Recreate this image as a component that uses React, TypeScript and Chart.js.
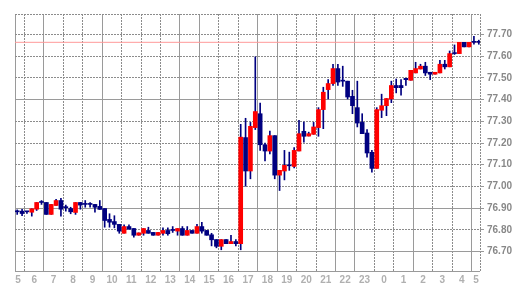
import React, { useEffect, useRef } from 'react';
import { Chart, registerables } from 'chart.js';

Chart.register(...registerables);

// ---- data (15-minute candles, 05:00 -> 05:00 next day) ----
const hourLabels = ['5', '6', '7', '8', '9', '10', '11', '12', '13', '14', '15', '16', '17', '18', '19', '20', '21', '22', '23', '0', '1', '2', '3', '4', '5'];

const openP = [
  76.883, 76.886, 76.883, 76.881, 76.895, 76.926, 76.926, 76.871, 76.912, 76.935,
  76.902, 76.898, 76.880, 76.926, 76.917, 76.917, 76.917, 76.908, 76.898, 76.848,
  76.838, 76.825, 76.784, 76.815, 76.806, 76.775, 76.784, 76.797, 76.788, 76.775,
  76.784, 76.797, 76.797, 76.794, 76.806, 76.775, 76.797, 76.784, 76.815, 76.797,
  76.777, 76.755, 76.724, 76.755, 76.736, 76.746, 76.736, 77.225, 77.071, 77.271,
  77.335, 77.192, 77.163, 77.234, 77.052, 77.071, 77.095, 77.092, 77.163, 77.254,
  77.232, 77.240, 77.271, 77.354, 77.446, 77.474, 77.543, 77.485, 77.485, 77.415,
  77.363, 77.295, 77.246, 77.157, 77.083, 77.351, 77.372, 77.403, 77.465, 77.465,
  77.498, 77.489, 77.523, 77.541, 77.554, 77.526, 77.517, 77.523, 77.563, 77.551,
  77.612, 77.612, 77.664, 77.643, 77.664, 77.664,
];
const highP = [
  76.892, 76.894, 76.885, 76.897, 76.926, 76.935, 76.926, 76.917, 76.941, 76.945,
  76.914, 76.904, 76.926, 76.926, 76.935, 76.926, 76.917, 76.935, 76.898, 76.874,
  76.865, 76.825, 76.823, 76.823, 76.806, 76.786, 76.806, 76.812, 76.788, 76.788,
  76.809, 76.809, 76.815, 76.806, 76.815, 76.815, 76.797, 76.825, 76.834, 76.797,
  76.784, 76.755, 76.755, 76.755, 76.774, 76.755, 77.286, 77.314, 77.295, 77.597,
  77.384, 77.200, 77.255, 77.234, 77.074, 77.166, 77.158, 77.179, 77.305, 77.297,
  77.250, 77.295, 77.363, 77.457, 77.492, 77.563, 77.563, 77.554, 77.485, 77.443,
  77.485, 77.335, 77.262, 77.166, 77.363, 77.425, 77.405, 77.485, 77.495, 77.492,
  77.498, 77.535, 77.572, 77.563, 77.572, 77.526, 77.526, 77.581, 77.581, 77.624,
  77.652, 77.664, 77.664, 77.664, 77.692, 77.674,
];
const lowP = [
  76.871, 76.865, 76.875, 76.863, 76.889, 76.917, 76.871, 76.871, 76.912, 76.863,
  76.886, 76.874, 76.871, 76.895, 76.904, 76.904, 76.881, 76.894, 76.812, 76.812,
  76.809, 76.784, 76.784, 76.803, 76.766, 76.775, 76.775, 76.784, 76.775, 76.775,
  76.775, 76.775, 76.788, 76.775, 76.775, 76.775, 76.784, 76.784, 76.784, 76.775,
  76.726, 76.717, 76.708, 76.736, 76.736, 76.726, 76.708, 77.001, 77.035, 77.262,
  77.166, 77.117, 77.150, 77.035, 76.981, 77.030, 77.074, 77.085, 77.163, 77.204,
  77.232, 77.240, 77.231, 77.266, 77.403, 77.465, 77.465, 77.461, 77.403, 77.335,
  77.274, 77.243, 77.135, 77.066, 77.083, 77.317, 77.326, 77.386, 77.431, 77.420,
  77.465, 77.489, 77.523, 77.541, 77.511, 77.492, 77.517, 77.523, 77.541, 77.551,
  77.608, 77.612, 77.643, 77.643, 77.655, 77.655,
];
const closeP = [
  76.883, 76.875, 76.883, 76.897, 76.926, 76.926, 76.871, 76.917, 76.935, 76.895,
  76.902, 76.883, 76.926, 76.914, 76.917, 76.917, 76.904, 76.894, 76.843, 76.835,
  76.825, 76.794, 76.815, 76.803, 76.775, 76.786, 76.806, 76.784, 76.775, 76.788,
  76.797, 76.782, 76.797, 76.806, 76.775, 76.797, 76.784, 76.815, 76.794, 76.775,
  76.754, 76.724, 76.755, 76.736, 76.746, 76.736, 77.227, 77.071, 77.277, 77.345,
  77.192, 77.163, 77.234, 77.052, 77.074, 77.097, 77.095, 77.166, 77.243, 77.231,
  77.243, 77.274, 77.354, 77.434, 77.474, 77.543, 77.481, 77.485, 77.412, 77.372,
  77.292, 77.243, 77.154, 77.083, 77.354, 77.372, 77.405, 77.465, 77.455, 77.455,
  77.492, 77.535, 77.543, 77.554, 77.523, 77.517, 77.526, 77.563, 77.551, 77.612,
  77.612, 77.664, 77.643, 77.664, 77.664, 77.664,
];

const yTickValues = [76.7, 76.8, 76.9, 77.0, 77.1, 77.2, 77.3, 77.4, 77.5, 77.6, 77.7];

// ---- styling / layout ----
const UP = '#ff0000';
const DOWN = '#000080';
const X_MIN = -0.455;
const X_MAX = 95.25;
const Y_MIN = 76.6102;
const Y_MAX = 77.7945;
const FONT = 'Arial, "Liberation Sans", sans-serif';
const DOT = '#8c8c8c';
const SOLID = '#9a9a9a';

const labelPos = hourLabels.map((_, k) => Math.min(Math.max(4 * k - 0.5, X_MIN + 0.62), X_MAX - 0.82));
const vGridDotted = [...hourLabels.slice(1).map((_, k) => 4 * k + 1.5), X_MAX];
const vGridSolid = [X_MIN, ...[1, 4, 8, 9, 12, 13, 16, 17, 20, 23].map((k) => 4 * k + 1.5)];
const hGridSolid = [Y_MIN, 76.7, 76.9, 77.4];
const hGridDotted = [Y_MAX];

const setTicks = (vals: number[]) => (s: any) => {
  s.ticks = vals.map((v) => ({ value: v }));
};

export default function App() {
  const ref = useRef<HTMLCanvasElement>(null);

  useEffect(() => {
    const idx = openP.map((_, i) => i);
    const bodyColors = idx.map((i) => (closeP[i] > openP[i] ? UP : DOWN));
    const last = closeP[closeP.length - 1];

    const gridAxisX = (vals: number[], color: string, dash: number[]) => ({
      type: 'linear',
      position: 'top',
      min: X_MIN,
      max: X_MAX,
      offset: false,
      afterBuildTicks: setTicks(vals),
      afterFit: (s: any) => {
        s.height = 0;
      },
      ticks: { display: false },
      grid: { color, lineWidth: 1, drawTicks: false, offset: false },
      border: { display: false, dash },
    });
    const gridAxisY = (vals: number[], color: string, dash: number[]) => ({
      type: 'linear',
      position: 'left',
      min: Y_MIN,
      max: Y_MAX,
      afterBuildTicks: setTicks(vals),
      afterFit: (s: any) => {
        s.width = 0;
      },
      ticks: { display: false },
      grid: { color, lineWidth: 1, drawTicks: false },
      border: { display: false, dash },
    });

    const chart = new Chart(ref.current as HTMLCanvasElement, {
      type: 'bar',
      data: {
        datasets: [
          {
            type: 'line',
            data: [
              { x: X_MIN, y: last },
              { x: X_MAX, y: last },
            ],
            borderColor: '#ff9a9a',
            borderWidth: 1,
            pointRadius: 0,
            order: 3,
            xAxisID: 'x',
            yAxisID: 'y',
          } as any,
          {
            type: 'bar',
            data: idx.map((i) => ({ x: i, y: [lowP[i], highP[i]] })),
            backgroundColor: DOWN,
            barThickness: 1,
            minBarLength: 1,
            grouped: false,
            borderWidth: 0,
            order: 2,
            xAxisID: 'x',
            yAxisID: 'y',
          } as any,
          {
            type: 'bar',
            data: idx.map((i) => ({ x: i, y: [openP[i], closeP[i]] })),
            backgroundColor: bodyColors,
            barThickness: 4,
            minBarLength: 1,
            grouped: false,
            borderWidth: 0,
            order: 1,
            xAxisID: 'x',
            yAxisID: 'y',
          } as any,
        ],
      },
      options: {
        responsive: false,
        animation: false,
        devicePixelRatio: 1,
        layout: { padding: { left: 15, top: 14, right: 0, bottom: 0 } },
        plugins: { legend: { display: false }, tooltip: { enabled: false } },
        scales: {
          x: {
            type: 'linear',
            position: 'bottom',
            min: X_MIN,
            max: X_MAX,
            offset: false,
            afterBuildTicks: setTicks(labelPos),
            afterFit: (s: any) => {
              s.height = 29;
            },
            ticks: {
              autoSkip: false,
              maxRotation: 0,
              minRotation: 0,
              padding: 3,
              color: '#b0b0b0',
              font: { family: FONT, size: 10, weight: 'bold' },
              callback: (_v: any, i: number) => hourLabels[i],
            },
            grid: { display: false, drawTicks: false, offset: false },
            border: { display: false },
          },
          xg: gridAxisX(vGridDotted, DOT, [2, 1]),
          xs: gridAxisX(vGridSolid, SOLID, []),
          y: {
            type: 'linear',
            position: 'right',
            min: Y_MIN,
            max: Y_MAX,
            afterBuildTicks: setTicks(yTickValues),
            afterFit: (s: any) => {
              s.width = 50;
            },
            ticks: {
              padding: 3,
              color: '#888888',
              font: { family: FONT, size: 10, weight: 'bold' },
              callback: (v: any) => Number(v).toFixed(2),
            },
            grid: {
              color: DOT,
              lineWidth: 1,
              drawTicks: true,
              tickLength: 4,
              tickColor: '#999999',
              tickBorderDash: [],
            },
            border: { display: false, dash: [2, 1] },
          },
          yg: gridAxisY(hGridDotted, DOT, [2, 1]),
          ys: gridAxisY(hGridSolid, SOLID, []),
        } as any,
      },
    });
    return () => chart.destroy();
  }, []);

  return (
    <div style={{ position: 'fixed', left: 0, top: 0, width: 530, height: 300, background: '#ffffff' }}>
      <canvas ref={ref} width={530} height={300} style={{ display: 'block', width: 530, height: 300 }} />
    </div>
  );
}
